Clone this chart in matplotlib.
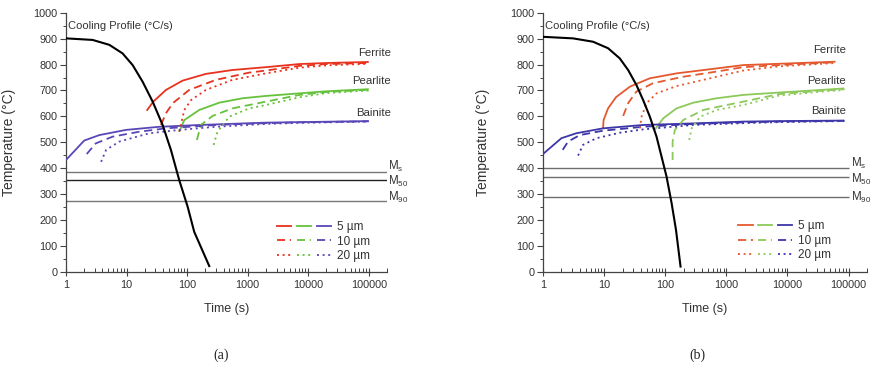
import matplotlib
matplotlib.use("Agg")
import matplotlib.pyplot as plt
from matplotlib.legend_handler import HandlerTuple
from matplotlib.lines import Line2D
from matplotlib.ticker import FixedLocator, LogLocator, NullFormatter, MultipleLocator

plt.rcParams['font.family'] = ['Liberation Sans', 'DejaVu Sans']
plt.rcParams['mathtext.fontset'] = 'custom'
plt.rcParams['mathtext.rm'] = 'Liberation Sans'
plt.rcParams['mathtext.default'] = 'regular'

# ---------------- data: panel (a) ----------------
a_cool_t = [1, 2.75, 5.2, 8.6, 12.6, 18.4, 27, 39.4, 54, 74, 102, 131, 232]
a_cool_T = [901, 895, 876, 843, 798, 734, 657, 567, 471, 355, 252, 155, 23]

a_fer5_t = [21.5, 27.6, 44.7, 84, 204, 560, 2000, 7200, 20000, 100000]
a_fer5_T = [622, 657, 702, 738, 764, 779, 790, 802, 806, 810]
a_fer10_t = [37, 44.7, 58, 108, 299, 1060, 2000, 7200, 20000, 100000]
a_fer10_T = [567, 612, 651, 702, 741, 769, 777, 795, 802, 806]
a_fer20_t = [74, 90, 116, 204, 560, 2000, 7200, 20000, 100000]
a_fer20_T = [541, 625, 663, 702, 741, 766, 788, 797, 803]

a_pea5_t = [74, 90, 159, 340, 823, 2000, 7200, 20000, 100000]
a_pea5_T = [541, 586, 625, 653, 670, 679, 689, 697, 705]
a_pea10_t = [145, 169, 264, 560, 2000, 7200, 20000, 100000]
a_pea10_T = [509, 567, 602, 631, 657, 683, 694, 703]
a_pea20_t = [274, 318, 496, 1060, 2000, 7200, 20000, 100000]
a_pea20_T = [490, 541, 599, 631, 644, 674, 690, 700]

a_bai5_t = [1, 2.0, 3.55, 9.8, 34.6, 159, 2000, 7200, 100000]
a_bai5_T = [432, 507, 528, 548, 560, 567, 576, 578, 582]
a_bai10_t = [2.2, 3.1, 5.9, 16.2, 44.7, 299, 2000, 7200, 100000]
a_bai10_T = [455, 496, 522, 541, 554, 567, 574, 577, 581]
a_bai20_t = [3.8, 4.6, 7.6, 23.7, 74, 299, 2000, 7200, 100000]
a_bai20_T = [425, 471, 503, 535, 548, 560, 571, 575, 580]

a_mart_T = [385, 353, 275]

# ---------------- data: panel (b) ----------------
b_cool_t = [1, 3.1, 6.6, 11.6, 18, 24.7, 33.8, 43.5, 56, 72, 87, 105, 127, 150, 178]
b_cool_T = [907, 901, 888, 863, 824, 779, 721, 663, 599, 522, 445, 368, 266, 162, 21]

b_fer5_t = [9.6, 9.8, 11.6, 15.6, 26.5, 56, 153, 540, 1900, 7200, 61000]
b_fer5_T = [554, 586, 631, 674, 715, 747, 766, 782, 798, 803, 811]
b_fer10_t = [20.5, 24.7, 33.8, 63, 197, 694, 1900, 7200, 61000]
b_fer10_T = [602, 651, 696, 728, 753, 773, 790, 798, 809]
b_fer20_t = [38.5, 41, 49.5, 72, 153, 540, 1900, 7200, 61000]
b_fer20_T = [554, 599, 651, 689, 717, 747, 777, 793, 806]

b_pea5_t = [68, 93, 153, 288, 694, 1900, 7200, 30000, 85000]
b_pea5_T = [550, 593, 631, 653, 670, 683, 692, 701, 708]
b_pea10_t = [132, 132, 144, 197, 420, 1010, 1900, 7200, 30000, 85000]
b_pea10_T = [432, 503, 548, 586, 625, 644, 657, 686, 698, 705]
b_pea20_t = [247, 270, 372, 694, 1900, 7200, 30000, 85000]
b_pea20_T = [509, 554, 599, 625, 644, 680, 694, 702]

b_bai5_t = [1, 2.0, 3.5, 9.6, 43.5, 288, 1900, 7200, 85000]
b_bai5_T = [455, 516, 535, 554, 567, 573, 580, 582, 584]
b_bai10_t = [2.1, 2.57, 4.0, 9.6, 43.5, 288, 1900, 7200, 85000]
b_bai10_T = [471, 503, 528, 545, 560, 571, 577, 580, 583]
b_bai20_t = [3.75, 4.5, 7.5, 18, 43.5, 288, 1900, 7200, 85000]
b_bai20_T = [449, 490, 516, 537, 550, 567, 574, 578, 582]

b_mart_T = [402, 368, 288]

mart_labels = ['M$_{s}$', 'M$_{50}$', 'M$_{90}$']
phase_labels = ['Ferrite', 'Pearlite', 'Bainite']
size_labels = ['5 µm', '10 µm', '20 µm']
x_ticks = [1, 10, 100, 1000, 10000, 100000]
x_ticklabels = ['1', '10', '100', '1000', '10000', '100000']
y_ticks = list(range(0, 1001, 100))

# ---------------- styling ----------------
W, H = 871, 370
fig = plt.figure(figsize=(W / 100, H / 100), dpi=100)

styles = ['-', (0, (4.5, 2.6)), (0, (1.1, 2.0))]
text_col = '#333333'


def make_panel(rect, d, colors, mart_cols, mart_end, mart_lab_x, lab_x, lab_T,
               leg_anchor, ylab_x, lw_phase=1.3):
    ax = fig.add_axes(rect)
    ax.set_xscale('log')
    ax.set_xlim(1, 2.0e5)
    ax.set_ylim(0, 1000)
    for s in ['top', 'right']:
        ax.spines[s].set_visible(False)
    for s in ['left', 'bottom']:
        ax.spines[s].set_color('#444444')
        ax.spines[s].set_linewidth(0.9)

    # martensite lines
    for T, c in zip(d['mart'], mart_cols):
        if mart_end is None:
            ax.axhline(T, color=c, lw=1.0, zorder=1)
        else:
            ax.hlines(T, 1, mart_end, color=c, lw=1.0, zorder=1)
    offs = d['mart_offs']
    for T, lab, o in zip(d['mart'], mart_labels, offs):
        ax.text(mart_lab_x, T + o, lab, fontsize=8.3, color=text_col,
                ha='left', va='center', clip_on=False)

    # phase curves
    handles = []
    for j, ls in enumerate(styles):
        row = []
        for i, key in enumerate(['fer', 'pea', 'bai']):
            t, T = d[key][j]
            ax.plot(t, T, color=colors[i], lw=lw_phase, ls=ls, zorder=3,
                    solid_capstyle='butt', dash_capstyle='butt')
            row.append(Line2D([], [], color=colors[i], lw=lw_phase, ls=ls))
        handles.append(tuple(row))

    # cooling curve
    ax.plot(d['cool'][0], d['cool'][1], color='black', lw=1.5, zorder=4)

    # texts
    ax.text(1.08, 948, 'Cooling Profile (°C/s)', fontsize=8, color=text_col,
            ha='left', va='center')
    for lab, T in zip(phase_labels, lab_T):
        ax.text(lab_x, T, lab, fontsize=8.2, color=text_col, ha='right',
                va='center', clip_on=False)

    leg = ax.legend(handles, size_labels,
                    handler_map={tuple: HandlerTuple(ndivide=None, pad=0.45)},
                    loc='upper left', bbox_to_anchor=leg_anchor, frameon=False,
                    fontsize=8.5, handlelength=4.6, handletextpad=0.45,
                    labelspacing=0.22, borderpad=0, borderaxespad=0)
    for txt in leg.get_texts():
        txt.set_color(text_col)

    # ticks
    ax.xaxis.set_major_locator(FixedLocator(x_ticks))
    ax.set_xticklabels(x_ticklabels)
    ax.xaxis.set_minor_locator(LogLocator(base=10, subs=range(2, 10), numticks=20))
    ax.xaxis.set_minor_formatter(NullFormatter())
    ax.set_yticks(y_ticks)
    ax.yaxis.set_minor_locator(MultipleLocator(50))
    ax.tick_params(axis='x', which='major', direction='inout', length=6,
                   width=0.8, colors='#444444', labelsize=7.8, labelcolor=text_col, pad=3)
    ax.tick_params(axis='x', which='minor', direction='in', length=3,
                   width=0.7, colors='#444444')
    ax.tick_params(axis='y', which='major', direction='out', length=4,
                   width=0.8, colors='#444444', labelsize=7.8, labelcolor=text_col, pad=2)
    ax.tick_params(axis='y', which='minor', direction='out', length=2.5,
                   width=0.7, colors='#444444')

    ax.set_ylabel('Temperature (°C)', fontsize=10, color=text_col)
    ax.yaxis.set_label_coords(ylab_x, 0.5)
    ax.set_xlabel('Time (s)', fontsize=9, color=text_col)
    ax.xaxis.set_label_coords(0.5, -0.118)
    return ax


def fr(x0, x1):
    return [x0 / W, 1 - 272 / H, (x1 - x0) / W, (272 - 12.7) / H]


da = {
    'cool': (a_cool_t, a_cool_T),
    'fer': [(a_fer5_t, a_fer5_T), (a_fer10_t, a_fer10_T), (a_fer20_t, a_fer20_T)],
    'pea': [(a_pea5_t, a_pea5_T), (a_pea10_t, a_pea10_T), (a_pea20_t, a_pea20_T)],
    'bai': [(a_bai5_t, a_bai5_T), (a_bai10_t, a_bai10_T), (a_bai20_t, a_bai20_T)],
    'mart': a_mart_T,
    'mart_offs': [22, -2, 14],
}
db = {
    'cool': (b_cool_t, b_cool_T),
    'fer': [(b_fer5_t, b_fer5_T), (b_fer10_t, b_fer10_T), (b_fer20_t, b_fer20_T)],
    'pea': [(b_pea5_t, b_pea5_T), (b_pea10_t, b_pea10_T), (b_pea20_t, b_pea20_T)],
    'bai': [(b_bai5_t, b_bai5_T), (b_bai10_t, b_bai10_T), (b_bai20_t, b_bai20_T)],
    'mart': b_mart_T,
    'mart_offs': [17, -10, 0],
}

make_panel(fr(66, 387), da, ['#e8321e', '#66c23c', '#5b46b8'],
           ['#777777', '#222222', '#777777'], None, 2.07e5,
           2.35e5, [843, 737, 612], (0.657, 0.197), -0.155)
make_panel(fr(543, 867), db, ['#e5582e', '#8cc95a', '#3d36a8'],
           ['#6e6e6e', '#6e6e6e', '#6e6e6e'], 1e5, 1.1e5,
           9.0e4, [856, 737, 619], (0.602, 0.20), -0.164)

fig.text(221 / W, 1 - 355 / H, '(a)', fontsize=10, family=['Liberation Serif'],
         ha='center', va='center', color='#222222')
fig.text(697 / W, 1 - 355 / H, '(b)', fontsize=10, family=['Liberation Serif'],
         ha='center', va='center', color='#222222')

fig.savefig('out.png', dpi=100)
